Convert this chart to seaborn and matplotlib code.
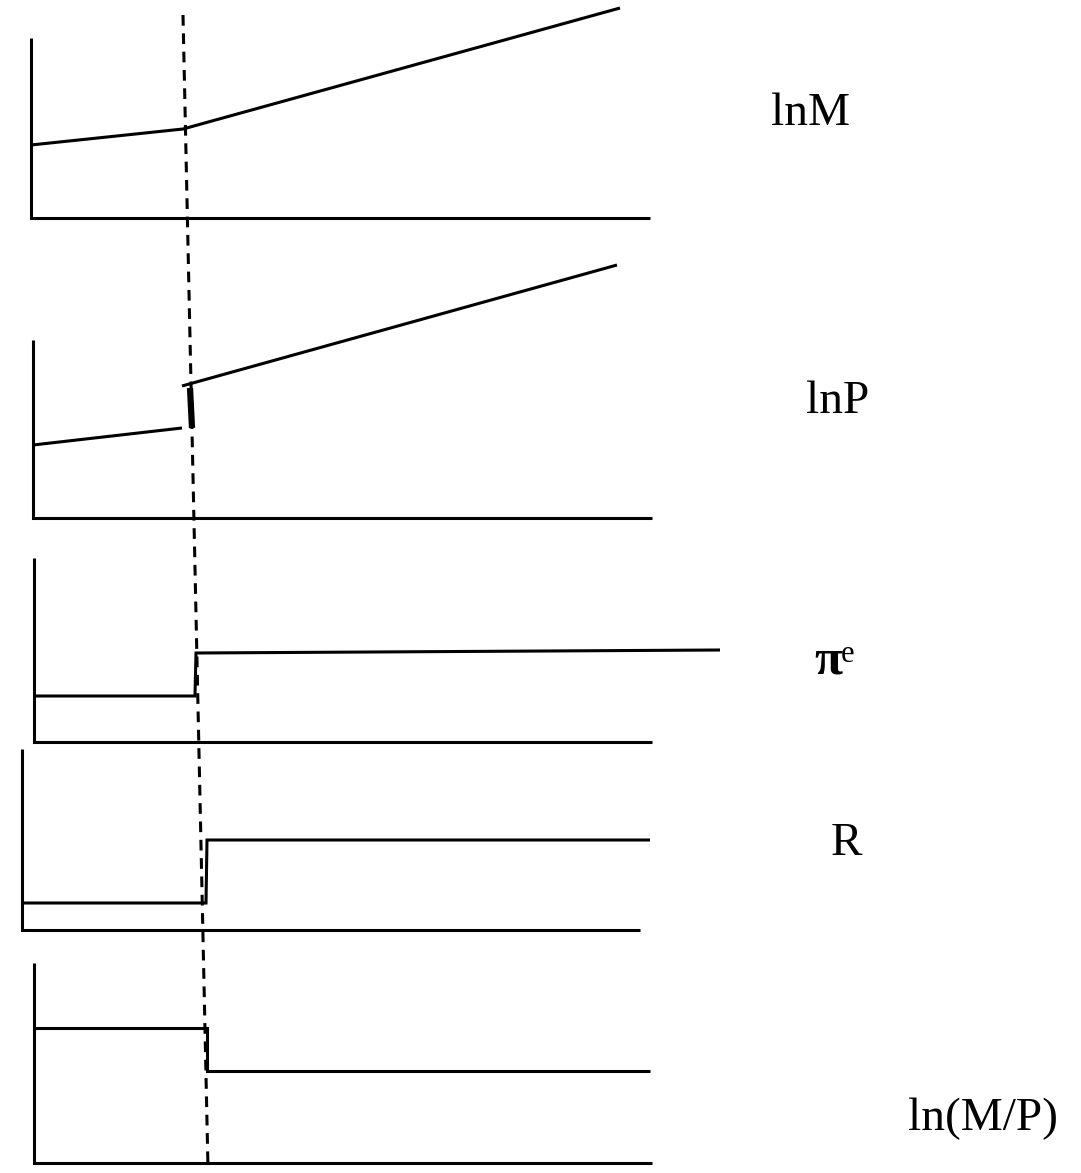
import numpy as np
import pandas as pd
import matplotlib
matplotlib.use("Agg")
import matplotlib.pyplot as plt
import seaborn as sns

sns.set_style("white")
plt.rcParams['font.family'] = ['Liberation Serif', 'DejaVu Serif']
plt.rcParams['text.color'] = 'black'

# Diagram in picture units (x to the right, y downwards)
# each panel: vertical axis, horizontal axis, path(s)
lnM_axis_x = [31, 31, 650]
lnM_axis_y = [38, 218, 218]
lnM_path_x = [31, 183, 620]
lnM_path_y = [145, 129, 8]

lnP_axis_x = [33, 33, 652]
lnP_axis_y = [340, 518, 518]
lnP_before_x = [33, 182]
lnP_before_y = [445, 428]
lnP_after_x = [182, 617]
lnP_after_y = [386, 265]
lnP_jump_x = [190, 192]
lnP_jump_y = [388, 428]

pie_axis_x = [34, 34, 652]
pie_axis_y = [558, 742, 742]
pie_path_x = [34, 195, 196, 720]
pie_path_y = [696, 696, 653, 650]

R_axis_x = [22, 22, 640]
R_axis_y = [749, 930, 930]
R_path_x = [22, 206, 207, 650]
R_path_y = [903, 903, 840, 840]

mp_axis_x = [34, 34, 652]
mp_axis_y = [963, 1163, 1163]
mp_path_x = [34, 207, 207, 650]
mp_path_y = [1028, 1028, 1071, 1071]

# dashed guide through the moment of the change
guide_x = [183, 208]
guide_y = [15, 1168]

labels = ["lnM", "lnP", "R", "ln(M/P)"]
label_x = [810, 838, 846, 983]
label_y = [125, 413, 855, 1130]

fig = plt.figure(figsize=(10.81, 11.73), dpi=100)
ax = fig.add_axes([0, 0, 1, 1])
ax.set_xlim(0, 1081)
ax.set_ylim(1173, 0)
ax.axis("off")

lw = 2.2
solid = [
    (lnM_axis_x, lnM_axis_y), (lnM_path_x, lnM_path_y),
    (lnP_axis_x, lnP_axis_y), (lnP_before_x, lnP_before_y), (lnP_after_x, lnP_after_y),
    (pie_axis_x, pie_axis_y), (pie_path_x, pie_path_y),
    (R_axis_x, R_axis_y), (R_path_x, R_path_y),
    (mp_axis_x, mp_axis_y), (mp_path_x, mp_path_y),
]
for xs, ys in solid:
    sns.lineplot(x=xs, y=ys, ax=ax, color="black", linewidth=lw, sort=False,
                 estimator=None, solid_joinstyle="miter", solid_capstyle="butt")

# thick jump in lnP
sns.lineplot(x=lnP_jump_x, y=lnP_jump_y, ax=ax, color="black", linewidth=4.5,
             sort=False, estimator=None, solid_capstyle="butt")

ax.plot(guide_x, guide_y, color="black", linewidth=lw, linestyle=(0, (3.5, 2.5)))

for t, x, y in zip(labels, label_x, label_y):
    ax.text(x, y, t, fontsize=34, color="black", ha="center", va="baseline")

# pi^e label
ax.text(828, 674, "\u03c0", fontsize=37, fontweight="bold", color="black",
        ha="center", va="baseline")
ax.text(848, 662, "e", fontsize=22, color="black", ha="center", va="baseline")

fig.savefig("out.png", dpi=100)
